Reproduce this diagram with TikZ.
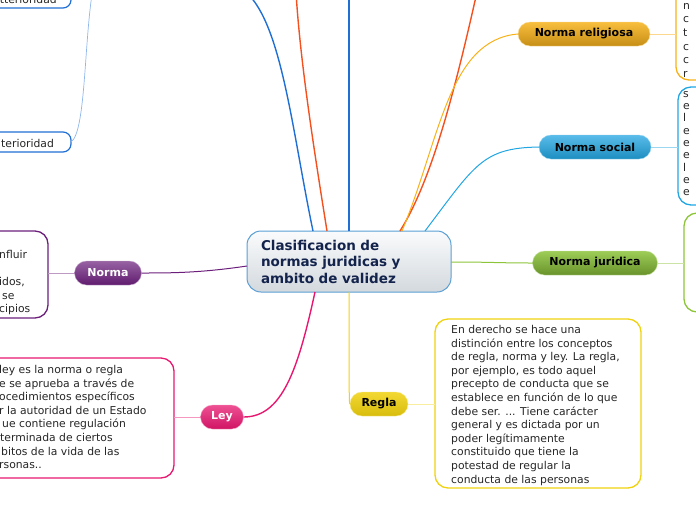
\documentclass[tikz,border=0pt]{standalone}
\usepackage{fontspec}
\setmainfont{DejaVu Sans}
\begin{document}
\begin{tikzpicture}[x=1pt,y=-1pt,
  pill/.style={rounded corners=12pt,minimum height=24pt,inner xsep=8pt,font=\fontsize{11}{13}\selectfont\bfseries},
  boxtxt/.style={font=\fontsize{10.8}{13.6}\selectfont,align=left,inner sep=0pt,text=black!85},
  tbox/.style={line width=1.3pt,rounded corners=13pt},
  thin/.style={line width=0.7pt},
  main/.style={line width=1.4pt}
]
\definecolor{cborder}{HTML}{5A9FD4}
\definecolor{ctext}{HTML}{13234C}
\definecolor{ctop}{HTML}{FAFBFC}
\definecolor{cbot}{HTML}{D3D9DE}
\definecolor{pur}{HTML}{6B1F7B}
\definecolor{pink}{HTML}{E8176F}
\definecolor{oran}{HTML}{F7B21B}
\definecolor{lblue}{HTML}{22A6E2}
\definecolor{grn}{HTML}{8CC43A}
\definecolor{yel}{HTML}{F0D20E}
\definecolor{dblue}{HTML}{1F6FD4}
\definecolor{ored}{HTML}{F4511E}
\useasboundingbox (0,0) rectangle (696,520);

% ---------- text boxes ----------
\draw[tbox,dblue,rounded corners=8pt,line width=1.2pt] (-20,-20) rectangle (71,8);
\draw[tbox,dblue,rounded corners=8pt,line width=1.2pt] (-20,132) rectangle (71,152);
\node[boxtxt,anchor=east] (ext) at (57,-1) {tterioridad};
\node[boxtxt,anchor=west] (int) at (1,143) {terioridad};

\draw[tbox,pur] (-20,231) rectangle (48,318);
\node[boxtxt,anchor=north west] (ntxt) at (-1,250) {nfluir\\\mbox{}\\idos,\\\hspace*{3pt}se\\cipios};

\draw[tbox,pink] (-20,358) rectangle (174,478);
\node[boxtxt,anchor=north west] (ltxt) at (-1,365) {ley es la norma o regla\\e se aprueba a través de\\ocedimientos específicos\\r la autoridad de un Estado\\\hspace*{3pt}ue contiene regulación\\\hspace*{1pt}terminada de ciertos\\\hspace*{2pt}bitos de la vida de las\\rsonas..};

\draw[tbox,yel] (435,319) rectangle (641,488);
\node[boxtxt,anchor=north west] (rtxt) at (451,325) {En derecho se hace una\\distinción entre los conceptos\\de regla, norma y ley. La regla,\\por ejemplo, es todo aquel\\precepto de conducta que se\\establece en función de lo que\\debe ser. ... Tiene carácter\\general y es dictada por un\\poder legítimamente\\constituido que tiene la\\potestad de regular la\\conducta de las personas};

\draw[tbox,oran] (676,-20) rectangle (720,80);
\node[boxtxt,anchor=north west] (nrtxt) at (683,3) {n\\c\\t\\c\\c\\r};
\draw[tbox,lblue] (678,87) rectangle (720,205);
\node[boxtxt,anchor=north west,font=\fontsize{10.8}{12.3}\selectfont] (nstxt) at (683,91) {s\\e\\l\\e\\e\\e\\l\\e\\e};
\draw[tbox,grn] (684,213) rectangle (720,312);

% ---------- central node ----------
\node[draw=cborder,line width=1pt,rounded corners=14pt,top color=ctop,bottom color=cbot,
  minimum width=204pt,minimum height=61pt,text=ctext,align=left,
  font=\fontsize{13.5}{16.5}\selectfont\bfseries,text width=176pt] (c) at (349,261.5)
  {Clasificacion de\\normas juridicas y\\ambito de validez};

% ---------- pills ----------
\node[pill,top color=pur!70!white,bottom color=pur!90!black,draw=pur!40!white,text=white,minimum width=67pt] (norma) at (108,273) {Norma};
\node[pill,top color=pink!75!white,bottom color=pink!90!black,draw=pink!40!white,text=white,minimum width=43pt,inner xsep=4pt] (ley) at (222,417) {Ley};
\node[pill,top color=yel!85!white,bottom color=yel!90!black,draw=yel!50!white,text=black,minimum width=58pt,inner xsep=4pt] (regla) at (379,404) {Regla};
\node[pill,top color=oran!85!white,bottom color=oran!80!black,draw=oran!50!white,text=black,minimum width=132pt] (nrel) at (584,34) {Norma religiosa};
\node[pill,top color=lblue!75!white,bottom color=lblue!85!black,draw=lblue!50!white,text=black,minimum width=112pt] (nsoc) at (595,147) {Norma social};
\node[pill,top color=grn!85!white,bottom color=grn!75!black,draw=grn!50!white,text=black,minimum width=125pt] (njur) at (595,263) {Norma juridica};

% ---------- coordinates ----------
\coordinate (c1) at (313,231);
\coordinate (c2) at (327,231);
\coordinate (c3) at (349,231);
\coordinate (c4) at (400,231);
\coordinate (c5) at (402,231);
\coordinate (c6) at (425,231);
\coordinate (c7) at (451,262);
\coordinate (c8) at (349,292);
\coordinate (c9) at (315,292);
\coordinate (c10) at (247,266);
\coordinate (t1) at (246,-8);
\coordinate (t2) at (296,-8);
\coordinate (t3) at (349,-8);
\coordinate (t4) at (477,-8);
\coordinate (tl) at (93,-12);
\coordinate (intr) at (71,142);
\coordinate (nbox) at (48,273);
\coordinate (lbox) at (174,417);
\coordinate (rbox) at (435,404);
\coordinate (nrbox) at (676,34);
\coordinate (nsbox) at (678,147);
\coordinate (njbox) at (684,263);

% ---------- connectors ----------
\draw[main,dblue] (c1) .. controls (292,130) and (282,25) .. (t1);
\draw[main,ored] (c2) .. controls (314,150) and (300,60) .. (t2);
\draw[main,dblue] (c3) -- (t3);
\draw[main,ored] (c4) .. controls (432,180) and (455,90) .. (t4);
\draw[line width=1pt,oran] (c5) .. controls (440,140) and (448,40) .. (nrel.west);
\draw[line width=1pt,lblue] (c6) .. controls (475,165) and (482,148) .. (nsoc.west);
\draw[line width=1pt,grn] (c7) .. controls (490,262) and (500,263) .. (njur.west);
\draw[line width=1pt,yel] (c8) .. controls (349,370) and (349,404) .. (regla.west);
\draw[main,pink] (c9) .. controls (298,370) and (282,417) .. (ley.east);
\draw[pur,line width=1pt] (c10) .. controls (200,273) and (170,273) .. (norma.east);

\draw[thin,dblue!50!white] (intr) .. controls (86,132) and (84,40) .. (tl);
\draw[pur!45!white,line width=1pt] (norma.west) -- (nbox);
\draw[pink!45!white,line width=1pt] (ley.west) -- (lbox);
\draw[yel!40!white,line width=1pt] (regla.east) -- (rbox);
\draw[oran!50!white,line width=1pt] (nrel.east) -- (nrbox);
\draw[lblue!45!white,line width=1pt] (nsoc.east) -- (nsbox);
\draw[grn!45!white,line width=1pt] (njur.east) -- (njbox);
\end{tikzpicture}
\end{document}
